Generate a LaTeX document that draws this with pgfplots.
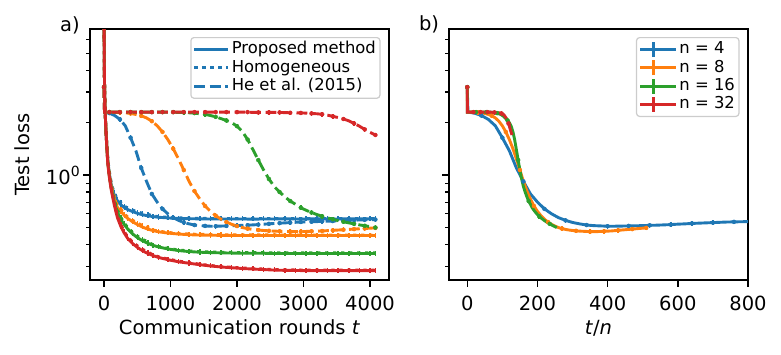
\documentclass[border=0pt]{standalone}
\usepackage{fontspec}
\setmainfont{DejaVu Sans}
\usepackage{pgfplots}
\usepackage{pgfplotstable}
\pgfplotsset{compat=1.18}

\definecolor{tabblue}{HTML}{1F77B4}
\definecolor{taborange}{HTML}{FF7F0E}
\definecolor{tabgreen}{HTML}{2CA02C}
\definecolor{tabred}{HTML}{D62728}

% proposed method (p) and homogeneous (h), one column per n
\pgfplotstableread{
t    p4    p8    p16   p32    h4    h8    h16   h32
0    12    12    12    12     12    12    12    12
5    4.2   4.2   4.2   4.2    4.25  4.25  4.25  4.25
10   3.0   3.0   3.0   3.0    3.05  3.05  3.05  3.05
20   2.2   2.2   2.2   2.2    2.24  2.24  2.24  2.24
30   1.78  1.78  1.78  1.78   1.82  1.82  1.82  1.81
40   1.52  1.52  1.52  1.52   1.56  1.55  1.55  1.55
55   1.25  1.23  1.22  1.20   1.29  1.27  1.26  1.24
70   1.10  1.08  1.07  1.05   1.13  1.11  1.10  1.08
85   1.00  0.98  0.96  0.95   1.03  1.01  0.99  0.98
105  0.90  0.88  0.86  0.84   0.927 0.906 0.886 0.865
130  0.82  0.79  0.77  0.75   0.845 0.814 0.793 0.773
155  0.77  0.73  0.70  0.675  0.793 0.752 0.721 0.695
180  0.735 0.68  0.65  0.615  0.757 0.70  0.67  0.633
205  0.71  0.65  0.61  0.566  0.731 0.67  0.628 0.583
255  0.675 0.62  0.555 0.506  0.695 0.639 0.572 0.521
305  0.652 0.588 0.52  0.465  0.665 0.60  0.53  0.474
355  0.635 0.565 0.492 0.434  0.648 0.576 0.502 0.443
430  0.618 0.54  0.46  0.405  0.630 0.551 0.469 0.413
505  0.603 0.52  0.437 0.384  0.615 0.53  0.446 0.392
580  0.592 0.503 0.42  0.368  0.604 0.513 0.428 0.375
660  0.584 0.49  0.406 0.355  0.596 0.50  0.414 0.362
740  0.578 0.48  0.395 0.345  0.583 0.484 0.398 0.348
820  0.573 0.473 0.387 0.337  0.578 0.477 0.39  0.34
960  0.568 0.465 0.377 0.327  0.573 0.469 0.38  0.33
1120 0.564 0.459 0.369 0.318  0.569 0.463 0.372 0.321
1280 0.562 0.455 0.364 0.312  0.566 0.459 0.367 0.315
1440 0.561 0.453 0.361 0.306  0.565 0.457 0.364 0.308
1600 0.560 0.452 0.359 0.301  0.564 0.456 0.362 0.303
1760 0.560 0.451 0.358 0.297  0.564 0.455 0.361 0.299
1920 0.560 0.451 0.357 0.294  0.563 0.455 0.36  0.296
2080 0.560 0.450 0.356 0.291  0.563 0.454 0.359 0.293
2240 0.559 0.450 0.356 0.289  0.563 0.454 0.359 0.291
2400 0.560 0.450 0.356 0.287  0.564 0.454 0.359 0.289
2560 0.560 0.450 0.355 0.285  0.564 0.454 0.358 0.287
2720 0.561 0.450 0.355 0.284  0.564 0.453 0.358 0.286
2880 0.560 0.450 0.355 0.2835 0.564 0.453 0.358 0.286
3040 0.560 0.450 0.355 0.283  0.563 0.453 0.358 0.285
3200 0.561 0.450 0.355 0.283  0.564 0.453 0.358 0.285
3360 0.560 0.450 0.355 0.283  0.564 0.453 0.358 0.285
3520 0.560 0.450 0.355 0.283  0.563 0.453 0.358 0.285
3680 0.561 0.450 0.355 0.283  0.564 0.453 0.358 0.285
3840 0.561 0.450 0.355 0.283  0.564 0.453 0.358 0.285
4000 0.561 0.450 0.355 0.283  0.564 0.453 0.358 0.285
4080 0.561 0.450 0.355 0.283  0.564 0.453 0.358 0.285
}\proposed

% He et al. (2015), one column per n
\pgfplotstableread{
t    d4    d8    d16   d32
0    3.2   3.2   3.2   3.2
8    2.30  2.30  2.30  2.30
80   2.27  2.30  2.30  2.30
160  2.20  2.29  2.30  2.30
240  2.09  2.29  2.30  2.30
320  1.92  2.28  2.30  2.30
400  1.64  2.26  2.30  2.30
480  1.38  2.23  2.30  2.30
560  1.10  2.19  2.30  2.30
640  0.92  2.13  2.30  2.30
720  0.78  2.04  2.30  2.30
800  0.70  1.92  2.30  2.30
880  0.64  1.77  2.30  2.30
960  0.60  1.60  2.30  2.30
1040 0.57  1.42  2.30  2.30
1120 0.55  1.24  2.29  2.30
1200 0.535 1.07  2.29  2.30
1280 0.525 0.92  2.28  2.30
1360 0.517 0.81  2.27  2.30
1440 0.513 0.73  2.25  2.30
1520 0.511 0.665 2.23  2.30
1600 0.509 0.62  2.20  2.30
1680 0.509 0.585 2.16  2.30
1760 0.510 0.558 2.11  2.30
1840 0.511 0.538 2.06  2.30
1920 0.512 0.522 2.00  2.30
2000 0.513 0.51  1.91  2.30
2080 0.515 0.50  1.78  2.30
2160 0.516 0.493 1.60  2.30
2240 0.518 0.488 1.40  2.29
2320 0.520 0.484 1.22  2.29
2400 0.523 0.481 1.07  2.29
2480 0.525 0.479 0.95  2.29
2560 0.528 0.477 0.86  2.29
2640 0.530 0.476 0.80  2.29
2720 0.532 0.475 0.75  2.285
2800 0.534 0.474 0.71  2.28
2880 0.536 0.474 0.68  2.28
2960 0.538 0.474 0.65  2.275
3040 0.539 0.475 0.628 2.27
3120 0.540 0.476 0.61  2.26
3200 0.541 0.477 0.594 2.25
3280 0.543 0.478 0.58  2.235
3360 0.544 0.48  0.568 2.21
3440 0.545 0.482 0.558 2.175
3520 0.547 0.484 0.548 2.14
3600 0.548 0.486 0.54  2.10
3680 0.550 0.488 0.532 2.05
3760 0.551 0.49  0.525 1.98
3840 0.553 0.492 0.518 1.91
3920 0.554 0.494 0.512 1.83
4000 0.555 0.496 0.506 1.76
4080 0.556 0.498 0.50  1.70
}\hetable

\newcommand{\lbl}{\fontsize{19.5}{23}\selectfont}
\newcommand{\lgd}{\fontsize{16.4}{19}\selectfont}

\pgfplotsset{
  panel/.style={
    scale only axis, width=299pt, height=251pt,
    ymin=0.25, ymax=6.9,
    ytick={1},
    minor ytick={0.3,0.4,0.5,0.6,0.7,0.8,0.9,2,3,4,5,6},
    tick pos=left, tick align=outside,
    major tick length=6.8pt, minor tick length=3.9pt,
    every major tick/.append style={line width=1.5pt, black},
    every minor tick/.append style={line width=1.15pt, black},
    axis line style={line width=1.5pt},
    tick label style={font=\lbl},
    label style={font=\lbl},
    xticklabel shift=5.5pt,
    xlabel shift=2.5pt,
    ylabel shift=9pt,
    /pgf/number format/assume math mode=true,
    /pgf/number format/1000 sep={},
    legend cell align=left,
    legend style={
      at={(1,1)}, anchor=north east, xshift=-8.5pt, yshift=-8pt,
      draw=black!20, line width=1.2pt, rounded corners=3pt,
      fill=white, fill opacity=0.8, text opacity=1,
      font=\lgd, inner xsep=2pt, inner ysep=3pt, row sep=0pt,
      nodes={inner xsep=2pt, inner ysep=1.2pt, text height=12pt, text depth=3.8pt},
    },
  },
  ln/.style={line width=2.9pt},
  dashln/.style={line width=2.9pt, dash pattern=on 10.8pt off 4.7pt},
  dotln/.style={line width=2.9pt, dash pattern=on 3.2pt off 4.8pt},
  ebar/.style={
    error bars/y dir=both,
    error bars/y fixed relative=0.03,
    error bars/error mark=none,
    error bars/error bar style={solid, line width=1.5pt},
  },
  ebonly/.style={only marks, mark=none, forget plot, ebar},
}

\begin{document}
\begin{tikzpicture}[x=1pt,y=1pt]
\path[use as bounding box] (0,0) rectangle (781,354);

\begin{semilogyaxis}[panel,
  at={(90pt,74pt)}, anchor=south west,
  xmin=-210, xmax=4285,
  xtick={0,1000,2000,3000,4000},
  yticklabels={10\raisebox{0.42em}{\fontsize{14}{14}\selectfont 0}},
  xlabel={Communication rounds \textit{t}},
  ylabel={Test loss},
  legend image code/.code={
    \draw[#1] (0pt,0pt) -- (27.3pt,0pt);
    \path (0pt,0pt) -- (34pt,0pt);},
]
% n = 4
\addplot[tabblue, ln, ebar] table[x=t, y=p4] {\proposed};
\addlegendentry{Proposed method}
\addplot[tabblue, dotln, ebar] table[x=t, y=h4] {\proposed};
\addlegendentry{Homogeneous}
\addplot[tabblue, dashln] table[x=t, y=d4] {\hetable};
\addlegendentry{He et al. (2015)}
\addplot[tabblue, ebonly, each nth point=2] table[x=t, y=d4] {\hetable};
% n = 8
\addplot[taborange, ln, ebar, forget plot] table[x=t, y=p8] {\proposed};
\addplot[taborange, dotln, ebar, forget plot] table[x=t, y=h8] {\proposed};
\addplot[taborange, dashln, forget plot] table[x=t, y=d8] {\hetable};
\addplot[taborange, ebonly, each nth point=2] table[x=t, y=d8] {\hetable};
% n = 16
\addplot[tabgreen, ln, ebar, forget plot] table[x=t, y=p16] {\proposed};
\addplot[tabgreen, dotln, ebar, forget plot] table[x=t, y=h16] {\proposed};
\addplot[tabgreen, dashln, forget plot] table[x=t, y=d16] {\hetable};
\addplot[tabgreen, ebonly, each nth point=2] table[x=t, y=d16] {\hetable};
% n = 32
\addplot[tabred, ln, ebar, forget plot] table[x=t, y=p32] {\proposed};
\addplot[tabred, dotln, ebar, forget plot] table[x=t, y=h32] {\proposed};
\addplot[tabred, dashln, forget plot] table[x=t, y=d32] {\hetable};
\addplot[tabred, ebonly, each nth point=2] table[x=t, y=d32] {\hetable};
\end{semilogyaxis}

\begin{semilogyaxis}[panel,
  at={(449pt,74pt)}, anchor=south west,
  xmin=-52, xmax=800,
  xtick={0,200,400,600,800},
  yticklabels={},
  xlabel={\textit{t}/\textit{n}},
  legend image code/.code={
    \draw[#1] (0pt,0pt) -- (27.3pt,0pt);
    \draw[#1] (13.65pt,-7.5pt) -- (13.65pt,7.5pt);
    \path (0pt,0pt) -- (36pt,0pt);},
]
\addplot[tabblue, ln] table[x expr=\thisrow{t}/4, y=d4] {\hetable};
\addlegendentry{n = 4}
\addplot[taborange, ln] table[x expr=\thisrow{t}/8, y=d8] {\hetable};
\addlegendentry{n = 8}
\addplot[tabgreen, ln] table[x expr=\thisrow{t}/16, y=d16] {\hetable};
\addlegendentry{n = 16}
\addplot[tabred, ln] table[x expr=\thisrow{t}/32, y=d32] {\hetable};
\addlegendentry{n = 32}
\addplot[tabblue, ebonly, each nth point=3] table[x expr=\thisrow{t}/4, y=d4] {\hetable};
\addplot[taborange, ebonly, each nth point=4] table[x expr=\thisrow{t}/8, y=d8] {\hetable};
\addplot[tabgreen, ebonly, each nth point=6] table[x expr=\thisrow{t}/16, y=d16] {\hetable};
\addplot[tabred, ebonly, each nth point=8] table[x expr=\thisrow{t}/32, y=d32] {\hetable};
\end{semilogyaxis}

\node[font=\lbl] at (70,329) {a)};
\node[font=\lbl] at (429,329.5) {b)};
\end{tikzpicture}
\end{document}
